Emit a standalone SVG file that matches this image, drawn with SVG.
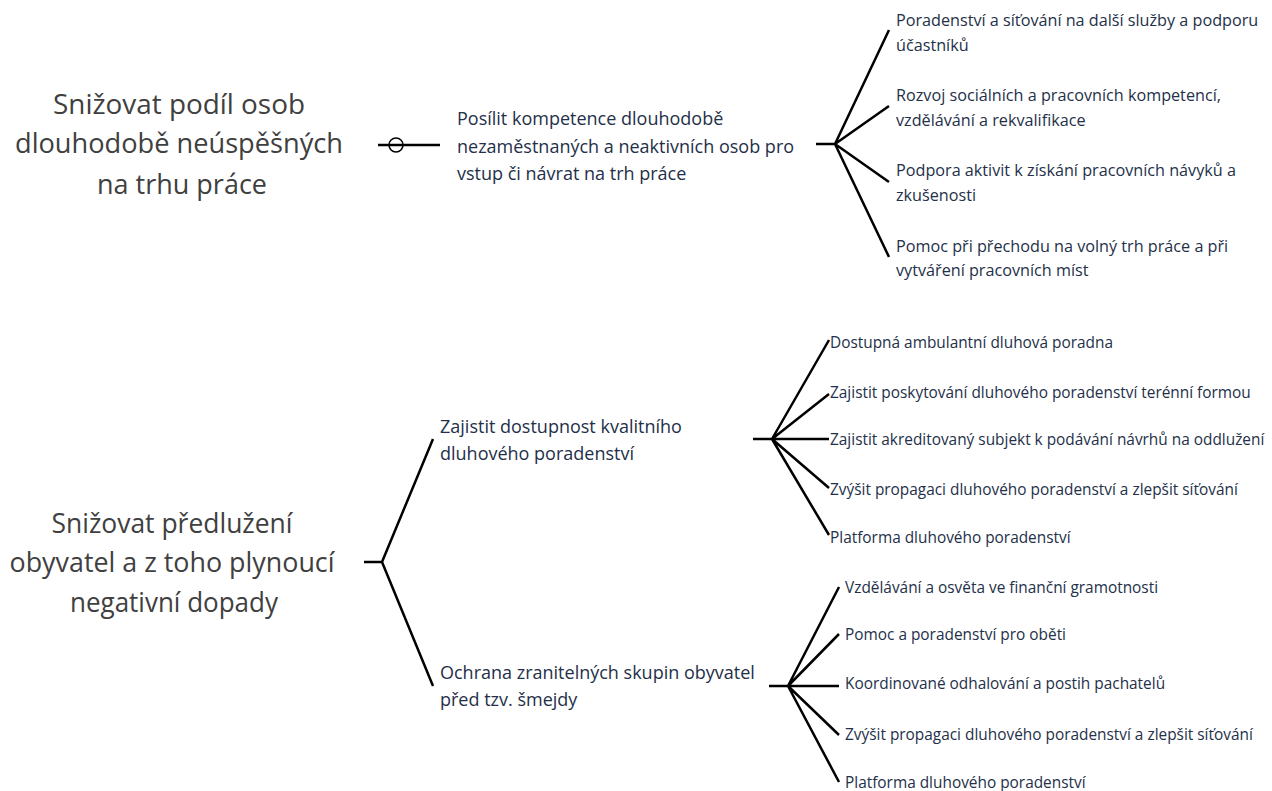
<svg xmlns="http://www.w3.org/2000/svg" width="1272" height="791" viewBox="0 0 1272 791">
<style>
.big{font-family:"Open Sans","Noto Sans",sans-serif;font-size:27.5px;fill:#404040;text-anchor:middle}
.mid{font-family:"Open Sans","Noto Sans",sans-serif;font-size:18px;fill:#243049}
.sm{font-family:"Open Sans","Noto Sans",sans-serif;font-size:16.2px;fill:#243049}
.xs{font-family:"Open Sans","Noto Sans",sans-serif;font-size:15.4px;fill:#243049}
.ln{stroke:#000;stroke-width:2.5;fill:none;stroke-linecap:butt}
</style>
<rect width="1272" height="791" fill="#fff"/>
<g id="connectors" class="ln">
<path d="M378,145 H440"/>
<circle cx="396" cy="145" r="7" stroke-width="1.5" fill="none"/>
<path d="M816,144 H835 M835,144 L889,30 M835,144 L889,106 M835,144 L889,182 M835,144 L889,257"/>
<path d="M364,562 H382 M382,562 L433,439 M382,562 L433,686"/>
<path d="M753,439 H772 M772,439 L829,340 M772,439 L829,394 M772,439 H829 M772,439 L829,488 M772,439 L829,535"/>
<path d="M769,686 H788 M788,686 L839,587 M788,686 L839,634 M788,686 H839 M788,686 L839,735 M788,686 L839,782"/>
</g>
<g id="goal1">
<text class="big" x="179" y="114" textLength="252" lengthAdjust="spacingAndGlyphs">Snižovat podíl osob</text>
<text class="big" x="179" y="153" textLength="328" lengthAdjust="spacingAndGlyphs">dlouhodobě neúspěšných</text>
<text class="big" x="182" y="194" textLength="170" lengthAdjust="spacingAndGlyphs">na trhu práce</text>
</g>
<g id="goal2">
<text class="big" x="172" y="533" textLength="241" lengthAdjust="spacingAndGlyphs">Snižovat předlužení</text>
<text class="big" x="172" y="572" textLength="325" lengthAdjust="spacingAndGlyphs">obyvatel a z toho plynoucí</text>
<text class="big" x="174" y="612" textLength="208" lengthAdjust="spacingAndGlyphs">negativní dopady</text>
</g>
<g id="sub1">
<text class="mid" x="457" y="125">Posílit kompetence dlouhodobě</text>
<text class="mid" x="457" y="153">nezaměstnaných a neaktivních osob pro</text>
<text class="mid" x="457" y="180">vstup či návrat na trh práce</text>
</g>
<g id="sub2">
<text class="mid" x="440" y="433">Zajistit dostupnost kvalitního</text>
<text class="mid" x="440" y="460">dluhového poradenství</text>
</g>
<g id="sub3">
<text class="mid" x="440" y="679">Ochrana zranitelných skupin obyvatel</text>
<text class="mid" x="440" y="706">před tzv. šmejdy</text>
</g>
<g id="a1"><text class="sm" x="896" y="26">Poradenství a síťování na další služby a podporu</text><text class="sm" x="896" y="51">účastníků</text></g>
<g id="a2"><text class="sm" x="896" y="101">Rozvoj sociálních a pracovních kompetencí,</text><text class="sm" x="896" y="126">vzdělávání a rekvalifikace</text></g>
<g id="a3"><text class="sm" x="896" y="176">Podpora aktivit k získání pracovních návyků a</text><text class="sm" x="896" y="201">zkušenosti</text></g>
<g id="a4"><text class="sm" x="896" y="252">Pomoc při přechodu na volný trh práce a při</text><text class="sm" x="896" y="276">vytváření pracovních míst</text></g>
<g id="b1"><text class="xs" x="830" y="348">Dostupná ambulantní dluhová poradna</text></g>
<g id="b2"><text class="xs" x="830" y="398">Zajistit poskytování dluhového poradenství terénní formou</text></g>
<g id="b3"><text class="xs" x="830" y="445">Zajistit akreditovaný subjekt k podávání návrhů na oddlužení</text></g>
<g id="b4"><text class="xs" x="830" y="495">Zvýšit propagaci dluhového poradenství a zlepšit síťování</text></g>
<g id="b5"><text class="xs" x="830" y="543">Platforma dluhového poradenství</text></g>
<g id="c1"><text class="xs" x="845" y="593">Vzdělávání a osvěta ve finanční gramotnosti</text></g>
<g id="c2"><text class="xs" x="845" y="640">Pomoc a poradenství pro oběti</text></g>
<g id="c3"><text class="xs" x="845" y="689">Koordinované odhalování a postih pachatelů</text></g>
<g id="c4"><text class="xs" x="845" y="740">Zvýšit propagaci dluhového poradenství a zlepšit síťování</text></g>
<g id="c5"><text class="xs" x="845" y="788">Platforma dluhového poradenství</text></g>
</svg>
